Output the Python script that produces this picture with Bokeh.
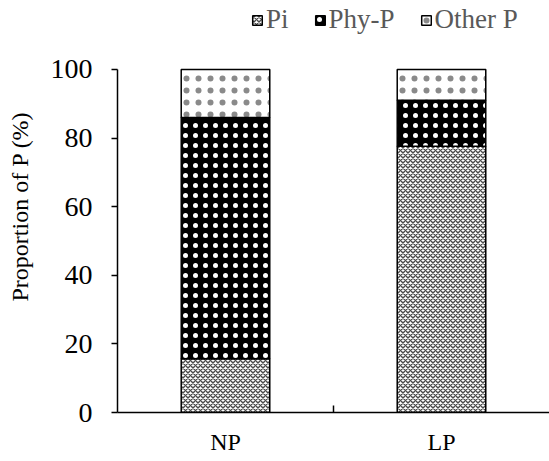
from bokeh.plotting import figure
from bokeh.models import ColumnDataSource, Range1d, FixedTicker, Legend
from bokeh.embed import file_html
from bokeh.resources import INLINE

categories = ["NP", "LP"]
pi_vals = [15.7, 77.6]
phy_vals = [70.3, 13.4]
other_vals = [14.0, 9.0]
series_names = ["Pi", "Phy-P", "Other P"]
y_ticks = [0, 20, 40, 60, 80, 100]

xpos = [i + 0.5 for i in range(len(categories))]
source = ColumnDataSource(dict(x=xpos, Pi=pi_vals, PhyP=phy_vals, OtherP=other_vals))

FONT = "Liberation Serif"

# frame spans the full height above the x axis; extra room above 100 holds the legend
p = figure(width=549, height=461, output_backend="svg", toolbar_location=None,
           x_range=Range1d(0, len(categories)), y_range=Range1d(0, 120.1),
           min_border_left=117, min_border_right=0, min_border_top=0, min_border_bottom=49)
p.outline_line_color = None
p.xgrid.visible = False
p.ygrid.visible = False
p.background_fill_color = "white"

renderers = p.vbar_stack(["Pi", "PhyP", "OtherP"], x="x", width=0.41, source=source,
                         fill_color=["white", "black", "white"],
                         hatch_pattern=["diagonal_cross", "dot", "dot"],
                         hatch_color=["#4a4a4a", "white", "#8a8a8a"],
                         hatch_scale=[5, 10, 12],
                         hatch_weight=[1.4, 0.5, 0.5],
                         line_color="black", line_width=1.5)

legend = Legend(items=[(n, [r]) for n, r in zip(series_names, renderers)],
                orientation="horizontal", location=(134, 377),
                background_fill_alpha=0, border_line_color=None,
                glyph_width=12, glyph_height=12, label_standoff=3, spacing=25,
                padding=0, margin=0,
                label_text_font=FONT, label_text_font_size="27px", label_text_color="#595959")
p.add_layout(legend)

# y axis
p.yaxis.ticker = FixedTicker(ticks=y_ticks)
p.yaxis.bounds = (0, 100)
p.yaxis.axis_label = "Proportion of P (%)"
p.yaxis.axis_label_text_font = FONT
p.yaxis.axis_label_text_font_size = "24px"
p.yaxis.axis_label_text_font_style = "normal"
p.yaxis.axis_label_text_color = "black"
p.yaxis.axis_label_standoff = 15
p.yaxis.major_label_text_font = FONT
p.yaxis.major_label_text_font_size = "28px"
p.yaxis.major_label_text_color = "black"
p.yaxis.major_label_standoff = 19
p.yaxis.major_tick_out = 6
p.yaxis.major_tick_in = 0
p.yaxis.minor_tick_out = 0
p.yaxis.minor_tick_in = 0
p.yaxis.axis_line_width = 1.5
p.yaxis.major_tick_line_width = 1.5
p.yaxis.axis_line_color = "black"
p.yaxis.major_tick_line_color = "black"

# x axis
p.xaxis.ticker = FixedTicker(ticks=xpos, minor_ticks=[i for i in range(1, len(categories))])
p.xaxis.major_label_overrides = {x: c for x, c in zip(xpos, categories)}
p.xaxis.major_label_text_font = FONT
p.xaxis.major_label_text_font_size = "24px"
p.xaxis.major_label_text_color = "black"
p.xaxis.major_label_standoff = 16
p.xaxis.major_tick_out = 0
p.xaxis.major_tick_in = 0
p.xaxis.minor_tick_out = 0
p.xaxis.minor_tick_in = 7
p.xaxis.minor_tick_line_width = 1.5
p.xaxis.minor_tick_line_color = "black"
p.xaxis.axis_line_width = 1.5
p.xaxis.axis_line_color = "black"

open("out.html", "w").write(file_html(p, INLINE))
